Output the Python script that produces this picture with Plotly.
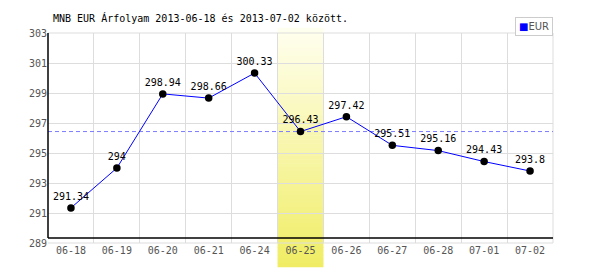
import plotly.graph_objects as go

dates = ["06-18", "06-19", "06-20", "06-21", "06-24", "06-25",
         "06-26", "06-27", "06-28", "07-01", "07-02"]
eur = [291.34, 294.00, 298.94, 298.66, 300.33, 296.43,
       297.42, 295.51, 295.16, 294.43, 293.80]
labels = ["291.34", "294", "298.94", "298.66", "300.33", "296.43",
          "297.42", "295.51", "295.16", "294.43", "293.8"]
highlight_index = 5
reference_value = eur[highlight_index]
y_ticks = [289, 291, 293, 295, 297, 299, 301, 303]

idx = list(range(len(dates)))
FONT = "DejaVu Sans Mono"

fig = go.Figure()
fig.add_trace(go.Scatter(
    x=idx, y=eur, mode="lines+markers+text",
    text=labels, textposition="top center",
    textfont=dict(family=FONT, size=10, color="#000000"),
    line=dict(color="#0000ff", width=1),
    marker=dict(color="#000000", size=7.5),
    name="EUR", showlegend=False, cliponaxis=False,
))

shapes = []
# reference dashed line (drawn first, the band covers it)
shapes.append(dict(type="line", xref="x", yref="y",
                   x0=-0.5, x1=len(dates) - 0.5, y0=reference_value, y1=reference_value,
                   line=dict(color="#7c7cff", width=1, dash="4px,3px"), layer="between"))

# gradient highlight band for the selected day
n = 60
top_py, bot_py = 28.0, 267.0
plot_top, plot_bot = 33.3, 243.3
ph = plot_bot - plot_top
c_top = (255, 255, 240)
c_bot = (240, 237, 100)
for i in range(n):
    p0 = top_py + (bot_py - top_py) * i / n
    p1 = top_py + (bot_py - top_py) * (i + 1) / n + 0.6
    t = (i + 0.5) / n
    col = tuple(round(c_top[k] + (c_bot[k] - c_top[k]) * t) for k in range(3))
    shapes.append(dict(type="rect", xref="x", yref="paper",
                       x0=highlight_index - 0.5, x1=highlight_index + 0.5,
                       y0=(plot_bot - p1) / ph, y1=(plot_bot - p0) / ph,
                       fillcolor="rgb(%d,%d,%d)" % col, line=dict(width=0),
                       layer="between"))

# plot border (grey) on right/top
shapes.append(dict(type="line", xref="paper", yref="paper", x0=0, x1=1, y0=1, y1=1,
                   line=dict(color="#dddddd", width=1), layer="between"))
shapes.append(dict(type="line", xref="paper", yref="paper", x0=1, x1=1, y0=0, y1=1,
                   line=dict(color="#dddddd", width=1), layer="between"))
shapes.append(dict(type="line", xref="paper", yref="paper", x0=0, x1=1, y0=0, y1=0,
                   line=dict(color="#dddddd", width=1), layer="below"))
# black axis lines
axis_y = 289.33
shapes.append(dict(type="line", xref="paper", yref="y", x0=0, x1=1, y0=axis_y, y1=axis_y,
                   line=dict(color="#000000", width=1.5), layer="above"))
shapes.append(dict(type="line", xref="paper", yref="y", x0=0, x1=0, y0=axis_y, y1=303,
                   line=dict(color="#000000", width=1.5), layer="above"))

fig.update_layout(
    width=600, height=270,
    margin=dict(l=48, r=47, t=33, b=27),
    paper_bgcolor="white", plot_bgcolor="white",
    shapes=shapes,
    showlegend=False,
    title=dict(text="MNB EUR Árfolyam 2013-06-18 és 2013-07-02 között.",
               x=53 / 600, xanchor="left", y=1 - 18 / 270, yanchor="middle",
               font=dict(family=FONT, size=10, color="#000000")),
    annotations=[dict(text="<span style='color:#0000ff'>■</span>EUR",
                      xref="paper", yref="paper", x=1, y=(243.3 - 17) / 210,
                      xanchor="right", yanchor="top", showarrow=False,
                      font=dict(family="DejaVu Sans", size=10, color="#555555"),
                      bordercolor="#cccccc", borderwidth=1, borderpad=3,
                      bgcolor="white")],
)
fig.update_xaxes(
    range=[-0.5, len(dates) - 0.5], tickvals=idx, ticktext=dates,
    showgrid=False, zeroline=False, showline=False, ticks="",
    tickfont=dict(family=FONT, size=10, color="#555555"),
    minor=dict(tick0=0.5, dtick=1, showgrid=True, gridcolor="#dddddd", gridwidth=1),
)
fig.update_yaxes(
    range=[289, 303], tickvals=y_ticks, ticktext=[str(v) for v in y_ticks],
    showgrid=True, gridcolor="#dddddd", gridwidth=1, zeroline=False, showline=False,
    ticks="", tickfont=dict(family=FONT, size=10, color="#555555"),
)

fig.write_html("out.html")
